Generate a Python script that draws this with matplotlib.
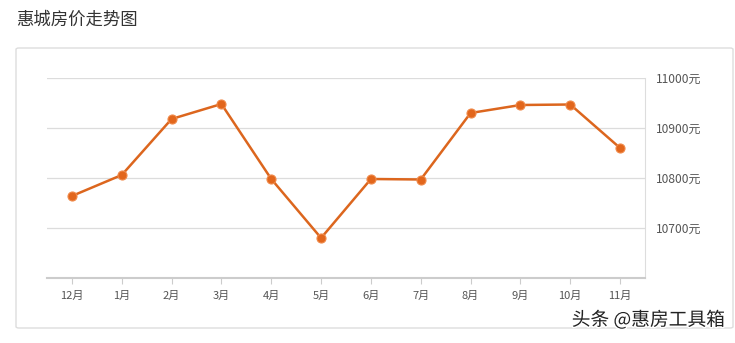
import matplotlib.pyplot as plt
from matplotlib.patches import FancyBboxPatch
import matplotlib.patheffects as pe

plt.rcParams['font.family'] = ['Noto Sans CJK SC', 'DejaVu Sans']

months = ["12月", "1月", "2月", "3月", "4月", "5月", "6月", "7月", "8月", "9月", "10月", "11月"]
prices = [10764, 10806, 10918, 10948, 10798, 10680, 10798, 10797, 10930, 10946, 10947, 10860]
y_ticks = [10700, 10800, 10900, 11000]
y_labels = [f"{v}元" for v in y_ticks]

W, H = 735, 343
fig = plt.figure(figsize=(W / 100, H / 100), dpi=100)

# outer panel
panel = FancyBboxPatch((16 / W, (H - 328) / H), 717 / W, 280 / H,
                       boxstyle="round,pad=0,rounding_size=0.004",
                       transform=fig.transFigure, facecolor="white",
                       edgecolor="#dddddd", linewidth=1, zorder=-5)
fig.patches.append(panel)

fig.text(16 / W, 1 - 20 / H, "惠城房价走势图", fontsize=12.5, color="#333333",
         va="center", ha="left")

ax = fig.add_axes([47 / W, (H - 278) / H, 598 / W, 200 / H])
ax.set_zorder(2)
ax.patch.set_alpha(0)
x = list(range(len(months)))
ax.plot(x, prices, color="#dc661e", linewidth=1.8, marker="o", markersize=6.5,
        markerfacecolor="#e2661c", markeredgecolor="#f08a4a", markeredgewidth=0.8,
        zorder=3, clip_on=False)

ax.set_xlim(-0.5, len(months) - 0.5)
ax.set_ylim(10600, 11000)
ax.set_xticks(x)
ax.set_xticklabels(months, fontsize=8, color="#555555")
ax.yaxis.tick_right()
ax.set_yticks(y_ticks)
ax.set_yticklabels(y_labels, fontsize=8.6, color="#555555")
ax.tick_params(axis="y", length=0, pad=8)
ax.tick_params(axis="x", length=4, color="#cccccc", pad=5)
ax.grid(axis="y", color="#dcdcdc", linewidth=0.9)
ax.set_axisbelow(True)
for s in ["top", "left"]:
    ax.spines[s].set_visible(False)
ax.spines["right"].set_color("#dddddd")
ax.spines["bottom"].set_color("#cccccc")
ax.spines["bottom"].set_linewidth(1.5)

fig.text(725 / W, 1 - 320 / H, "头条 @惠房工具箱", fontsize=13.5, color="#222222",
         ha="right", va="center", zorder=5,
         path_effects=[pe.withStroke(linewidth=2, foreground="white")])

fig.savefig("out.png", dpi=100)
